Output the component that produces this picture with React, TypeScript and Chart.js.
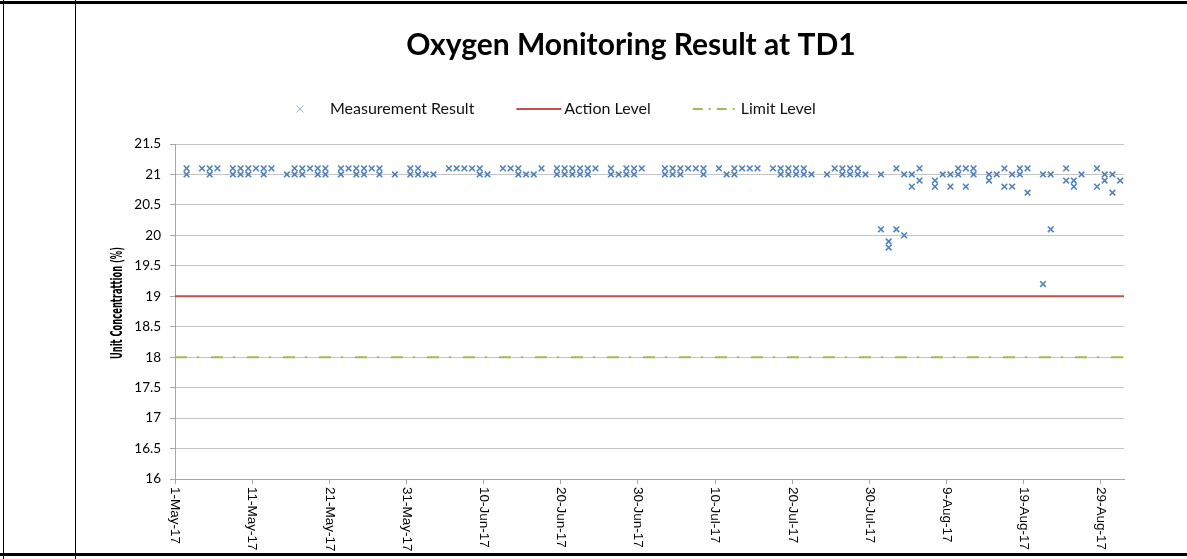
import React, { useEffect, useRef } from "react";
import { Chart, registerables } from "chart.js";

Chart.register(...registerables);

// ---------- data ----------
const chartTitle = "Oxygen Monitoring Result at TD1";
const yAxisTitle = "Unit Concentrattion (%)";
const seriesNames = ["Measurement Result", "Action Level", "Limit Level"];

const axisStartDate = "2017-05-01";
const axisEndDate = "2017-08-31";
const tickEveryDays = 10;

const readingDates = [
  "2017-05-02", "2017-05-04", "2017-05-05", "2017-05-06", "2017-05-08", "2017-05-09", "2017-05-10",
  "2017-05-11", "2017-05-12", "2017-05-13", "2017-05-15", "2017-05-16", "2017-05-17", "2017-05-18",
  "2017-05-19", "2017-05-20", "2017-05-22", "2017-05-23", "2017-05-24", "2017-05-25", "2017-05-26",
  "2017-05-27", "2017-05-29", "2017-05-31", "2017-06-01", "2017-06-02", "2017-06-03", "2017-06-05",
  "2017-06-06", "2017-06-07", "2017-06-08", "2017-06-09", "2017-06-10", "2017-06-12", "2017-06-13",
  "2017-06-14", "2017-06-15", "2017-06-16", "2017-06-17", "2017-06-19", "2017-06-20", "2017-06-21",
  "2017-06-22", "2017-06-23", "2017-06-24", "2017-06-26", "2017-06-27", "2017-06-28", "2017-06-29",
  "2017-06-30", "2017-07-03", "2017-07-04", "2017-07-05", "2017-07-06", "2017-07-07", "2017-07-08",
  "2017-07-10", "2017-07-11", "2017-07-12", "2017-07-13", "2017-07-14", "2017-07-15", "2017-07-17",
  "2017-07-18", "2017-07-19", "2017-07-20", "2017-07-21", "2017-07-22", "2017-07-24", "2017-07-25",
  "2017-07-26", "2017-07-27", "2017-07-28", "2017-07-29", "2017-07-31", "2017-08-01", "2017-08-02",
  "2017-08-03", "2017-08-04", "2017-08-05", "2017-08-07", "2017-08-08", "2017-08-09", "2017-08-10",
  "2017-08-11", "2017-08-12", "2017-08-14", "2017-08-15", "2017-08-16", "2017-08-17", "2017-08-18",
  "2017-08-19", "2017-08-21", "2017-08-22", "2017-08-24", "2017-08-25", "2017-08-26", "2017-08-28",
  "2017-08-29", "2017-08-30", "2017-08-31",
];

const firstReading = [
  21.1, 21.1, 21.1, 21.1, 21.1, 21.1, 21.1,
  21.1, 21.1, 21.1, 21.0, 21.1, 21.1, 21.1,
  21.1, 21.1, 21.1, 21.1, 21.1, 21.1, 21.1,
  21.1, 21.0, 21.1, 21.1, 21.0, 21.0, 21.1,
  21.1, 21.1, 21.1, 21.1, 21.0, 21.1, 21.1,
  21.1, 21.0, 21.0, 21.1, 21.1, 21.1, 21.1,
  21.1, 21.1, 21.1, 21.1, 21.0, 21.1, 21.1,
  21.1, 21.1, 21.1, 21.1, 21.1, 21.1, 21.1,
  21.1, 21.0, 21.1, 21.1, 21.1, 21.1, 21.1,
  21.1, 21.1, 21.1, 21.1, 21.0, 21.0, 21.1,
  21.1, 21.1, 21.1, 21.0, 21.0, 19.9, 21.1,
  21.0, 21.0, 21.1, 20.9, 21.0, 21.0, 21.1,
  21.1, 21.1, 21.0, 21.0, 21.1, 21.0, 21.1,
  21.1, 21.0, 21.0, 21.1, 20.9, 21.0, 21.1,
  21.0, 21.0, 20.9,
];

const secondReading: (number | null)[] = [
  21.0, null, 21.0, null, 21.0, 21.0, 21.0,
  null, 21.0, null, null, 21.0, 21.0, null,
  21.0, 21.0, 21.0, null, 21.0, 21.0, null,
  21.0, null, 21.0, 21.0, null, null, null,
  null, null, null, 21.0, null, null, null,
  21.0, null, null, null, 21.0, 21.0, 21.0,
  21.0, 21.0, null, 21.0, null, 21.0, 21.0,
  null, 21.0, 21.0, 21.0, null, null, 21.0,
  null, null, 21.0, null, null, null, null,
  21.0, 21.0, 21.0, 21.0, null, null, null,
  21.0, 21.0, 21.0, null, 20.1, 19.8, 20.1,
  20.0, 20.8, 20.9, 20.8, null, 20.8, 21.0,
  20.8, 21.0, 20.9, null, 20.8, 20.8, 21.0,
  20.7, 19.2, 20.1, 20.9, 20.8, null, 20.8,
  20.9, 20.7, null,
];

const actionLevel = 19;
const limitLevel = 18;

const yMin = 16;
const yMax = 21.5;
const yStep = 0.5;

const monthAbbr = ["Jan", "Feb", "Mar", "Apr", "May", "Jun", "Jul", "Aug", "Sep", "Oct", "Nov", "Dec"];

// ---------- helpers ----------
const toUtc = (iso: string) => {
  const [y, m, d] = iso.split("-").map(Number);
  return Date.UTC(y, m - 1, d);
};
const DAY = 86400000;
const dayIndex = (iso: string) => Math.round((toUtc(iso) - toUtc(axisStartDate)) / DAY);
const axisDays = dayIndex(axisEndDate) + 1; // one slot per day
const tickDays: number[] = [];
for (let v = 0; v < axisDays; v += tickEveryDays) tickDays.push(v);
const tickLabel = (v: number) => {
  const dt = new Date(toUtc(axisStartDate) + v * DAY);
  return `${dt.getUTCDate()}-${monthAbbr[dt.getUTCMonth()]}-${String(dt.getUTCFullYear()).slice(2)}`;
};

const COLORS = {
  marker: "#4f81bd",
  action: "#c0504d",
  limit: "#9bbb59",
  grid: "#c4c4c4",
  axis: "#a6a6a6",
  text: "#000000",
};
const LIMIT_DASH = [12, 10, 2, 12];

function drawCross(ctx: CanvasRenderingContext2D, x: number, y: number, r: number) {
  ctx.beginPath();
  ctx.moveTo(x - r, y - r);
  ctx.lineTo(x + r, y + r);
  ctx.moveTo(x + r, y - r);
  ctx.lineTo(x - r, y + r);
  ctx.stroke();
}

const decorPlugin = {
  id: "decor",
  afterDraw(chart: any) {
    const ctx: CanvasRenderingContext2D = chart.ctx;
    const area = chart.chartArea;
    const xs = chart.scales.x;
    ctx.save();

    // title
    ctx.fillStyle = COLORS.text;
    ctx.font = "bold 30px Lato, 'Open Sans', sans-serif";
    ctx.textAlign = "center";
    ctx.textBaseline = "middle";
    ctx.fillText(chartTitle, chart.width / 2 + 2, 39);

    // legend
    const ly = 103;
    ctx.font = "16px Lato, 'Open Sans', sans-serif";
    ctx.textAlign = "left";
    let cx = 224;
    ctx.strokeStyle = "#8fb0dc";
    ctx.lineWidth = 1;
    drawCross(ctx, cx, ly, 3.5);
    cx += 30;
    ctx.fillStyle = "#111";
    ctx.fillText(seriesNames[0], cx, ly);
    cx += ctx.measureText(seriesNames[0]).width + 42;
    ctx.strokeStyle = COLORS.action;
    ctx.lineWidth = 2;
    ctx.beginPath();
    ctx.moveTo(cx, ly);
    ctx.lineTo(cx + 45, ly);
    ctx.stroke();
    cx += 48;
    ctx.fillText(seriesNames[1], cx, ly);
    cx += ctx.measureText(seriesNames[1]).width + 42;
    ctx.strokeStyle = COLORS.limit;
    ctx.setLineDash([10, 6, 2, 6]);
    ctx.beginPath();
    ctx.moveTo(cx, ly);
    ctx.lineTo(cx + 45, ly);
    ctx.stroke();
    ctx.setLineDash([]);
    cx += 48;
    ctx.fillText(seriesNames[2], cx, ly);

    // y axis title (condensed to its reference length)
    ctx.save();
    ctx.translate(area.left - 57, 297);
    ctx.rotate(-Math.PI / 2);
    ctx.font = "bold 15px 'Liberation Sans Narrow', 'DejaVu Sans Condensed', sans-serif";
    const tw = ctx.measureText(yAxisTitle).width;
    ctx.scale(Math.min(1, 112 / tw), 1);
    ctx.textAlign = "center";
    ctx.textBaseline = "middle";
    ctx.fillStyle = COLORS.text;
    ctx.fillText(yAxisTitle, 0, 0);
    ctx.restore();

    // x tick labels, rotated clockwise
    ctx.font = "13.5px 'Liberation Sans', Arial, sans-serif";
    ctx.fillStyle = COLORS.text;
    ctx.textAlign = "left";
    ctx.textBaseline = "middle";
    for (const v of tickDays) {
      const px = xs.getPixelForValue(v);
      ctx.save();
      ctx.translate(px, area.bottom + 8);
      ctx.rotate(Math.PI / 2);
      ctx.fillText(tickLabel(v), 0, 0);
      ctx.restore();
    }
    ctx.restore();
  },
};

export default function App() {
  const canvasRef = useRef<HTMLCanvasElement | null>(null);

  useEffect(() => {
    const canvas = canvasRef.current;
    if (!canvas) return;

    const points: { x: number; y: number }[] = [];
    readingDates.forEach((d, i) => {
      const x = dayIndex(d) + 0.5;
      points.push({ x, y: firstReading[i] });
      const s = secondReading[i];
      if (s !== null && s !== undefined) points.push({ x, y: s });
    });

    const chart = new Chart(canvas, {
      type: "scatter",
      data: {
        datasets: [
          {
            label: seriesNames[0],
            data: points,
            pointStyle: "crossRot",
            pointRadius: 4,
            pointBorderWidth: 1.6,
            borderColor: COLORS.marker,
            backgroundColor: COLORS.marker,
            showLine: false,
            order: 1,
          },
          {
            type: "line",
            label: seriesNames[1],
            data: [
              { x: 0, y: actionLevel },
              { x: axisDays, y: actionLevel },
            ],
            borderColor: COLORS.action,
            borderWidth: 2,
            pointRadius: 0,
            showLine: true,
            order: 2,
          },
          {
            type: "line",
            label: seriesNames[2],
            data: [
              { x: 0, y: limitLevel },
              { x: axisDays, y: limitLevel },
            ],
            borderColor: COLORS.limit,
            borderWidth: 2,
            borderDash: LIMIT_DASH,
            pointRadius: 0,
            showLine: true,
            order: 3,
          },
        ] as any,
      },
      options: {
        animation: false,
        responsive: false,
        maintainAspectRatio: false,
        layout: { padding: { top: 138, right: 58, left: 0, bottom: 0 } },
        plugins: {
          legend: { display: false },
          title: { display: false },
          tooltip: { enabled: false },
        },
        scales: {
          x: {
            type: "linear",
            min: 0,
            max: axisDays,
            afterBuildTicks: (s: any) => {
              s.ticks = tickDays.map((v) => ({ value: v }));
            },
            afterFit: (s: any) => {
              s.height = 74;
            },
            ticks: { display: false },
            grid: {
              drawOnChartArea: false,
              drawTicks: true,
              tickLength: 5,
              color: COLORS.axis,
            },
            border: { color: COLORS.axis, width: 1 },
          },
          y: {
            type: "linear",
            min: yMin,
            max: yMax,
            afterFit: (s: any) => {
              s.width = 99;
            },
            ticks: {
              stepSize: yStep,
              color: COLORS.text,
              padding: 9,
              font: { family: "Lato, 'Open Sans', sans-serif", size: 13.5 },
              callback: (v: any) => String(Number(v)),
            },
            grid: {
              color: COLORS.grid,
              tickLength: 5,
              tickColor: COLORS.axis,
            },
            border: { color: COLORS.axis, width: 1 },
          },
        },
      } as any,
      plugins: [decorPlugin],
    });

    return () => chart.destroy();
  }, []);

  const line = (style: React.CSSProperties) => (
    <div style={{ position: "absolute", background: "#000", ...style }} />
  );

  return (
    <div
      style={{
        position: "fixed",
        left: 0,
        top: 0,
        width: 1187,
        height: 559,
        background: "#fff",
        overflow: "hidden",
      }}
    >
      {line({ left: 0, top: 1, width: 1187, height: 3 })}
      {line({ left: 0, top: 553, width: 1187, height: 3 })}
      {line({ left: 3, top: 0, width: 1, height: 559 })}
      {line({ left: 75, top: 0, width: 1, height: 559 })}
      <canvas
        ref={canvasRef}
        width={1106}
        height={547}
        style={{ position: "absolute", left: 76, top: 6, width: 1106, height: 547 }}
      />
    </div>
  );
}
